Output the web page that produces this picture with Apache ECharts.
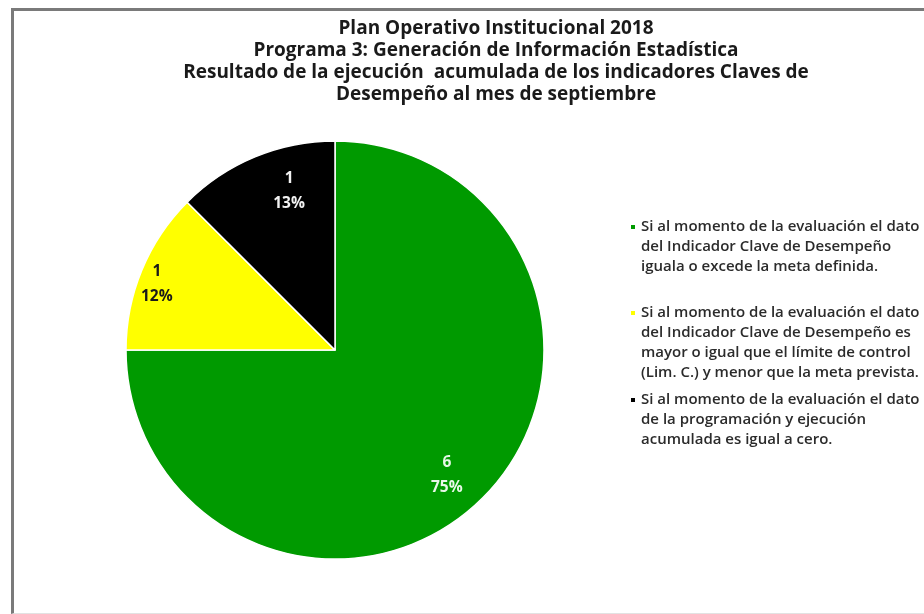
<!DOCTYPE html>
<html>
<head>
<meta charset="utf-8">
<script src="https://cdn.jsdelivr.net/npm/echarts@6/dist/echarts.min.js"></script>
<style>
  html, body { margin: 0; padding: 0; background: #fff; }
  #chart { position: absolute; left: 0; top: 0; width: 924px; height: 614px; }
  #frame {
    position: absolute; left: 11px; top: 8px; width: 920px; height: 602px;
    border-left: 3px solid #7a7a7a; border-top: 3px solid #7a7a7a;
    border-bottom: 1px solid #e2e2e2; pointer-events: none;
  }
</style>
</head>
<body>
<div id="chart"></div>
<div id="frame"></div>
<script>
// categorias (texto de la leyenda)
const categories = [
  "Si al momento de la evaluación el dato\ndel Indicador Clave de Desempeño\niguala o excede la meta definida.",
  "Si al momento de la evaluación el dato\ndel Indicador Clave de Desempeño es\nmayor o igual que el límite de control\n(Lim. C.) y menor que la meta prevista.",
  "Si al momento de la evaluación el dato\nde la programación y ejecución\nacumulada es igual a cero."
];
// cantidad de indicadores
const counts = [6, 1, 1];
// porcentajes tal como aparecen en la etiqueta
const percentLabels = ["75%", "12%", "13%"];

const sliceColors = ["#009a00", "#ffff00", "#000000"];
const labelColors = ["#e8f8e8", "#1a1a1a", "#f2f2f2"];
const labelNudge = [[-10, 3], [-19, 0], [20, 0]]; // ajuste fino de las etiquetas
const legendFirstLineY = [227, 313, 400]; // primera linea de cada leyenda

const FONT = "Open Sans";
const LEGEND_LH = 20;
const R = 209;

const chart = echarts.init(document.getElementById("chart"));

const pieData = counts.map((v, i) => ({
  name: categories[i],
  value: v,
  itemStyle: { color: sliceColors[i] }
}));

const labelData = counts.map((v, i) => ({
  name: categories[i],
  value: v,
  label: { color: labelColors[i], offset: labelNudge[i] }
}));

// una leyenda por item para que el icono quede junto a la primera linea
const legends = categories.map((name, i) => {
  const n = name.split("\n").length;
  return {
    data: [name],
    orient: "vertical",
    left: 629,
    top: legendFirstLineY[i] - ((2 * n - 1) * LEGEND_LH) / 2,
    padding: 0,
    icon: "rect",
    itemWidth: 6,
    itemHeight: 6,
    selectedMode: false,
    formatter: (t) => "\n".repeat(n - 1) + t,
    textStyle: {
      fontFamily: FONT,
      fontSize: 15,
      fontWeight: 600,
      lineHeight: LEGEND_LH,
      color: "#2b2b2b"
    }
  };
});

const option = {
  backgroundColor: "#fff",
  animation: false,
  title: {
    text: "Plan Operativo Institucional 2018\nPrograma 3: Generación de Información Estadística\nResultado de la ejecución  acumulada de los indicadores Claves de\nDesempeño al mes de septiembre",
    left: 496,
    top: 18,
    padding: 0,
    textAlign: "center",
    textStyle: {
      fontFamily: FONT,
      fontSize: 19,
      fontWeight: "bold",
      lineHeight: 22,
      color: "#1a1a1a"
    }
  },
  legend: legends,
  series: [
    {
      type: "pie",
      center: [335, 350],
      radius: R,
      startAngle: 90,
      clockwise: true,
      silent: true,
      label: { show: false },
      labelLine: { show: false },
      itemStyle: { borderColor: "#fff", borderWidth: 1.5 },
      data: pieData
    },
    {
      // anillo invisible solo para colocar las etiquetas cerca del borde
      type: "pie",
      center: [335, 350],
      radius: [R * 0.62, R],
      startAngle: 90,
      clockwise: true,
      silent: true,
      itemStyle: { color: "rgba(0,0,0,0)", borderWidth: 0 },
      label: {
        show: true,
        position: "inside",
        fontFamily: FONT,
        fontSize: 15.5,
        fontWeight: "bold",
        lineHeight: 25,
        formatter: (p) => p.value + "\n" + percentLabels[p.dataIndex]
      },
      labelLine: { show: false },
      data: labelData
    }
  ]
};

chart.setOption(option);
</script>
</body>
</html>
